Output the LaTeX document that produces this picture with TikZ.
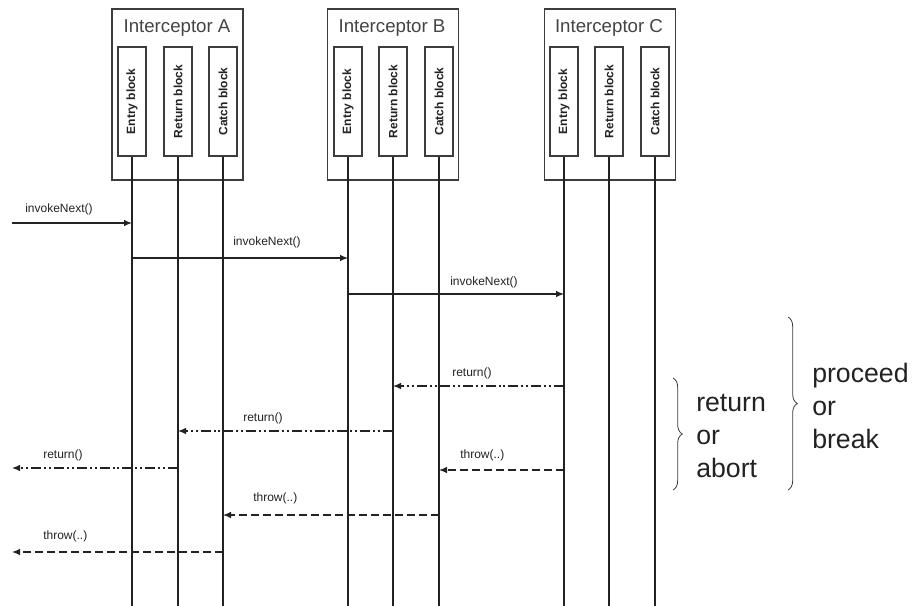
\documentclass[tikz,border=0pt]{standalone}
\usepackage{fontspec}
\setmainfont{Liberation Sans}
\usetikzlibrary{arrows.meta,decorations.pathreplacing}
\definecolor{ink}{HTML}{222222}
\definecolor{frame}{HTML}{3C3C3C}
\definecolor{titlegray}{HTML}{444444}
\begin{document}
\begin{tikzpicture}[x=0.75pt,y=-0.75pt,
  interceptor/.style={draw=frame,line width=0.8pt,minimum width=98.25pt,minimum height=128.25pt,inner sep=0},
  blockbox/.style={draw=frame,line width=0.8pt,minimum width=21pt,minimum height=81.75pt,inner sep=0,
    font=\fontsize{9}{10}\selectfont\bfseries,text=ink},
  ititle/.style={font=\fontsize{14}{16}\selectfont,text=titlegray,inner sep=0},
  lifeline/.style={draw=ink,line width=1pt},
  call/.style={draw=ink,line width=1pt,-{Latex[length=6pt,width=5pt]}},
  ret/.style={call,dash pattern=on 7.5pt off 2.2pt on 1.5pt off 2.2pt on 1.5pt off 2.2pt},
  exc/.style={call,dash pattern=on 6pt off 3pt},
  msg/.style={font=\fontsize{9}{10}\selectfont,text=ink,anchor=west,inner sep=0},
  note/.style={font=\fontsize{20}{24.5}\selectfont,text=ink,align=left,anchor=west,inner sep=0},
  bracket/.style={draw=frame,line width=0.6pt,decorate,decoration={brace,amplitude=7pt}}
]
\useasboundingbox (0,0) rectangle (913,606);

% interceptor frames and titles
\node[interceptor] (iA) at (177.5,94.5) {};
\node[interceptor] (iB) at (393,94.5) {};
\node[interceptor] (iC) at (610,94.5) {};
\node[ititle] (tA) at (177,28) {Interceptor A};
\node[ititle] (tB) at (392,28) {Interceptor B};
\node[ititle] (tC) at (609,28) {Interceptor C};

% blocks inside each interceptor
\node[blockbox] (eA) at (132,101.5) {\rotatebox{90}{Entry block}};
\node[blockbox] (rA) at (178,101.5) {\rotatebox{90}{Return block}};
\node[blockbox] (cA) at (223,101.5) {\rotatebox{90}{Catch block}};
\node[blockbox] (eB) at (348,101.5) {\rotatebox{90}{Entry block}};
\node[blockbox] (rB) at (393,101.5) {\rotatebox{90}{Return block}};
\node[blockbox] (cB) at (439,101.5) {\rotatebox{90}{Catch block}};
\node[blockbox] (eC) at (564,101.5) {\rotatebox{90}{Entry block}};
\node[blockbox] (rC) at (609,101.5) {\rotatebox{90}{Return block}};
\node[blockbox] (cC) at (655,101.5) {\rotatebox{90}{Catch block}};

% lifelines
\coordinate (bottom) at (0,606);
\foreach \b in {eA,rA,cA,eB,rB,cB,eC,rC,cC}
  \draw[lifeline] (\b.south) -- (\b.south |- bottom);

% message rows
\coordinate (m1) at (12,223);
\coordinate (m2) at (0,258);
\coordinate (m3) at (0,294);
\coordinate (m4) at (0,386);
\coordinate (m5) at (0,431);
\coordinate (m6) at (12,468);
\coordinate (m7) at (0,470);
\coordinate (m8) at (0,515);
\coordinate (m9) at (12,552);

% calls
\draw[call] (m1) -- (eA |- m1);
\draw[call] (eA |- m2) -- (eB |- m2);
\draw[call] (eB |- m3) -- (eC |- m3);
% returns
\draw[ret] (eC |- m4) -- (rB |- m4);
\draw[ret] (rB |- m5) -- (rA |- m5);
\draw[ret] (rA |- m6) -- (m6);
% exceptions
\draw[exc] (eC |- m7) -- (cB |- m7);
\draw[exc] (cB |- m8) -- (cA |- m8);
\draw[exc] (cA |- m9) -- (m9);

% message labels
\node[msg] (l1) at (25,209) {invokeNext()};
\node[msg] (l2) at (233,242) {invokeNext()};
\node[msg] (l3) at (450,282) {invokeNext()};
\node[msg] (l4) at (452,373) {return()};
\node[msg] (l5) at (243,418) {return()};
\node[msg] (l6) at (43,455) {return()};
\node[msg] (l7) at (460,455) {throw(..)};
\node[msg] (l8) at (253,498) {throw(..)};
\node[msg] (l9) at (43,536) {throw(..)};

% outcome braces
\coordinate (b1t) at (673,378);
\coordinate (b1b) at (673,490);
\coordinate (b2t) at (788,317);
\coordinate (b2b) at (788,490);
\draw[bracket] (b1t) -- (b1b);
\draw[bracket] (b2t) -- (b2b);
\node[note] (n1) at (696,436) {return\\or\\abort};
\node[note] (n2) at (812,406) {proceed\\or\\break};
\end{tikzpicture}
\end{document}
